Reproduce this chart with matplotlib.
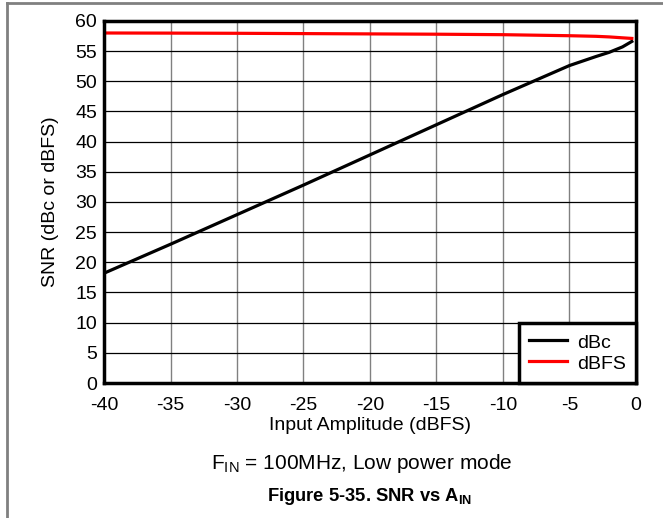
import matplotlib
matplotlib.use('Agg')
import matplotlib.pyplot as plt
from matplotlib.lines import Line2D

plt.rcParams['font.family'] = ['Liberation Sans', 'DejaVu Sans']
plt.rcParams['axes.unicode_minus'] = False

# Input amplitude (dBFS)
amp = [-40, -35, -30, -25, -20, -15, -10, -5, -3, -2, -1, -0.3]
# SNR values
snr_dbc = [18.2, 23.0, 27.9, 32.8, 37.8, 42.8, 47.8, 52.6, 54.1, 54.8, 55.7, 56.6]
snr_dbfs = [58.0, 57.98, 57.95, 57.9, 57.85, 57.8, 57.72, 57.55, 57.45, 57.35, 57.2, 57.1]

xticks = [-40, -35, -30, -25, -20, -15, -10, -5, 0]
yticks = list(range(0, 61, 5))

fig = plt.figure(figsize=(6.63, 5.18), dpi=100)
ax = fig.add_axes([0.157, 0.2606, 0.802, 0.699])

ax.plot(amp, snr_dbc, color='black', lw=2.3, label='dBc')
ax.plot(amp, snr_dbfs, color='#ff0000', lw=2.3, label='dBFS')

ax.set_xlim(-40, 0)
ax.set_ylim(0, 60)
ax.set_xticks(xticks)
ax.set_yticks(yticks)
ax.tick_params(length=0, labelsize=14)
ax.tick_params(axis='x', pad=10)
ax.tick_params(axis='y', pad=5)

for x in xticks:
    ax.axvline(x, color='#808080', lw=1.0, zorder=0)
for y in yticks:
    ax.axhline(y, color='black', lw=0.9, zorder=0)

for s in ax.spines.values():
    s.set_linewidth(2.5)

ax.set_xlabel('Input Amplitude (dBFS)', fontsize=14, labelpad=2)
ax.set_ylabel('SNR (dBc or dBFS)', fontsize=14, labelpad=12)

leg = ax.legend(loc='lower right', fontsize=14, fancybox=False, framealpha=1,
                edgecolor='black', borderaxespad=0, handlelength=2.0,
                handletextpad=0.5, borderpad=0.5, handleheight=1.1,
                labelspacing=0.05)
leg.get_frame().set_linewidth(2.5)

fig.text(0.545, 0.106, r'F$_{\mathregular{IN}}$ = 100MHz, Low power mode',
         ha='center', va='center', fontsize=15)
fig.text(0.558, 0.042, r'Figure 5-35. SNR vs A$_{\mathregular{IN}}$',
         ha='center', va='center', fontsize=13.2, fontweight='bold')

# outer frame (top and left only)
fig.add_artist(Line2D([0.0106, 1.0], [0.9942, 0.9942], color='#808080', lw=2))
fig.add_artist(Line2D([0.0106, 0.0106], [0.0, 0.9942], color='#808080', lw=2))

fig.savefig('out.png', dpi=100)
